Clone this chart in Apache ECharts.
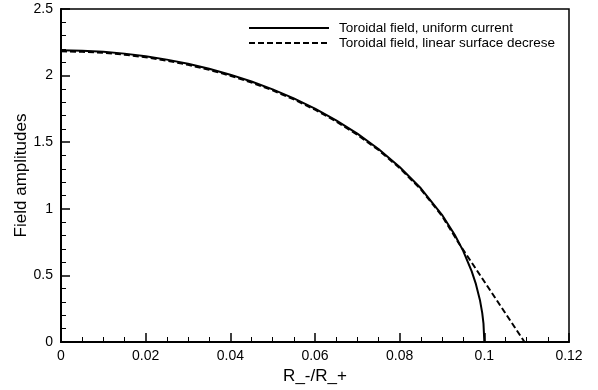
<!DOCTYPE html>
<html>
<head>
<meta charset="utf-8">
<script src="https://cdn.jsdelivr.net/npm/echarts@6/dist/echarts.min.js"></script>
<style>html,body{margin:0;padding:0;background:#fff}#c{width:598px;height:390px}</style>
</head>
<body>
<div id="c"></div>
<script>
const seriesNames = ['Toroidal field, uniform current', 'Toroidal field, linear surface decrese'];
const xSolid = [0, 0.005, 0.01, 0.015, 0.02, 0.025, 0.03, 0.035, 0.04, 0.045, 0.05, 0.055, 0.06, 0.065, 0.07, 0.075, 0.08, 0.085, 0.09, 0.093, 0.095, 0.097, 0.098, 0.099, 0.0995, 0.0998, 0.1];
const ySolid = [2.19, 2.187, 2.179, 2.165, 2.146, 2.12, 2.089, 2.051, 2.007, 1.956, 1.897, 1.829, 1.752, 1.664, 1.564, 1.449, 1.314, 1.154, 0.955, 0.805, 0.684, 0.532, 0.436, 0.309, 0.219, 0.138, 0];
const xDashed = [0, 0.005, 0.01, 0.015, 0.02, 0.025, 0.03, 0.035, 0.04, 0.045, 0.05, 0.055, 0.06, 0.065, 0.07, 0.075, 0.08, 0.085, 0.09, 0.094, 0.1095];
const yDashed = [2.182, 2.179, 2.171, 2.157, 2.138, 2.112, 2.081, 2.043, 1.999, 1.948, 1.889, 1.821, 1.744, 1.656, 1.556, 1.441, 1.306, 1.146, 0.947, 0.74, 0];
const xTicks = [0, 0.02, 0.04, 0.06, 0.08, 0.1, 0.12];
const yTicks = [0, 0.5, 1, 1.5, 2, 2.5];
const xTitle = 'R_-/R_+';
const yTitle = 'Field amplitudes';

const font = "'Liberation Sans', Arial, Helvetica, sans-serif";
const chart = echarts.init(document.getElementById('c'), null, {renderer: 'canvas'});
const pairs = (xs, ys) => xs.map((x, i) => [x, ys[i]]);
chart.setOption({
  animation: false,
  backgroundColor: '#fff',
  grid: {left: 61, right: 29, top: 9, bottom: 48, show: true, borderColor: '#000', borderWidth: 1.5,
    backgroundColor: 'transparent', containLabel: false, outerBoundsMode: 'none'},
  legend: {
    orient: 'vertical', left: 243, top: 16, itemWidth: 80, itemHeight: 12, itemGap: 1,
    itemStyle: {opacity: 0},
    textStyle: {fontFamily: font, fontSize: 13.5, lineHeight: 14, color: '#000', padding: [0, 0, 0, 5]},
    data: seriesNames
  },
  xAxis: {
    type: 'value', min: xTicks[0], max: xTicks[xTicks.length - 1], interval: 0.02,
    name: xTitle, nameLocation: 'middle', nameGap: 26, nameMoveOverlap: false,
    nameTextStyle: {fontFamily: font, fontSize: 17, color: '#000'},
    axisLine: {show: true, onZero: false, lineStyle: {color: '#000', width: 2}},
    axisTick: {show: true, inside: true, length: 9, lineStyle: {color: '#000', width: 1.5}},
    minorTick: {show: true, splitNumber: 4, length: 5, lineStyle: {color: '#000', width: 1}},
    axisLabel: {fontFamily: font, fontSize: 14, color: '#000', margin: 7,
      formatter: v => xTicks.some(t => Math.abs(t - v) < 1e-9) ? String(+v.toFixed(2)) : ''},
    splitLine: {show: false}
  },
  yAxis: {
    type: 'value', min: yTicks[0], max: yTicks[yTicks.length - 1], interval: 0.5,
    name: yTitle, nameLocation: 'middle', nameGap: 31, nameMoveOverlap: false,
    nameTextStyle: {fontFamily: font, fontSize: 17, color: '#000'},
    axisLine: {show: true, onZero: false, lineStyle: {color: '#000', width: 2}},
    axisTick: {show: true, inside: true, length: 9, lineStyle: {color: '#000', width: 1.5}},
    minorTick: {show: true, splitNumber: 5, length: 5, lineStyle: {color: '#000', width: 1}},
    axisLabel: {fontFamily: font, fontSize: 14, color: '#000', margin: 8,
      formatter: v => String(+v.toFixed(1))},
    splitLine: {show: false}
  },
  series: [
    {name: seriesNames[0], type: 'line', data: pairs(xSolid, ySolid), symbol: 'none', smooth: false,
      lineStyle: {color: '#000', width: 2, type: 'solid'}, itemStyle: {color: '#000'}},
    {name: seriesNames[1], type: 'line', data: pairs(xDashed, yDashed), symbol: 'none', smooth: false,
      lineStyle: {color: '#000', width: 2, type: [6, 3]}, itemStyle: {color: '#000'}}
  ]
});
</script>
</body>
</html>
